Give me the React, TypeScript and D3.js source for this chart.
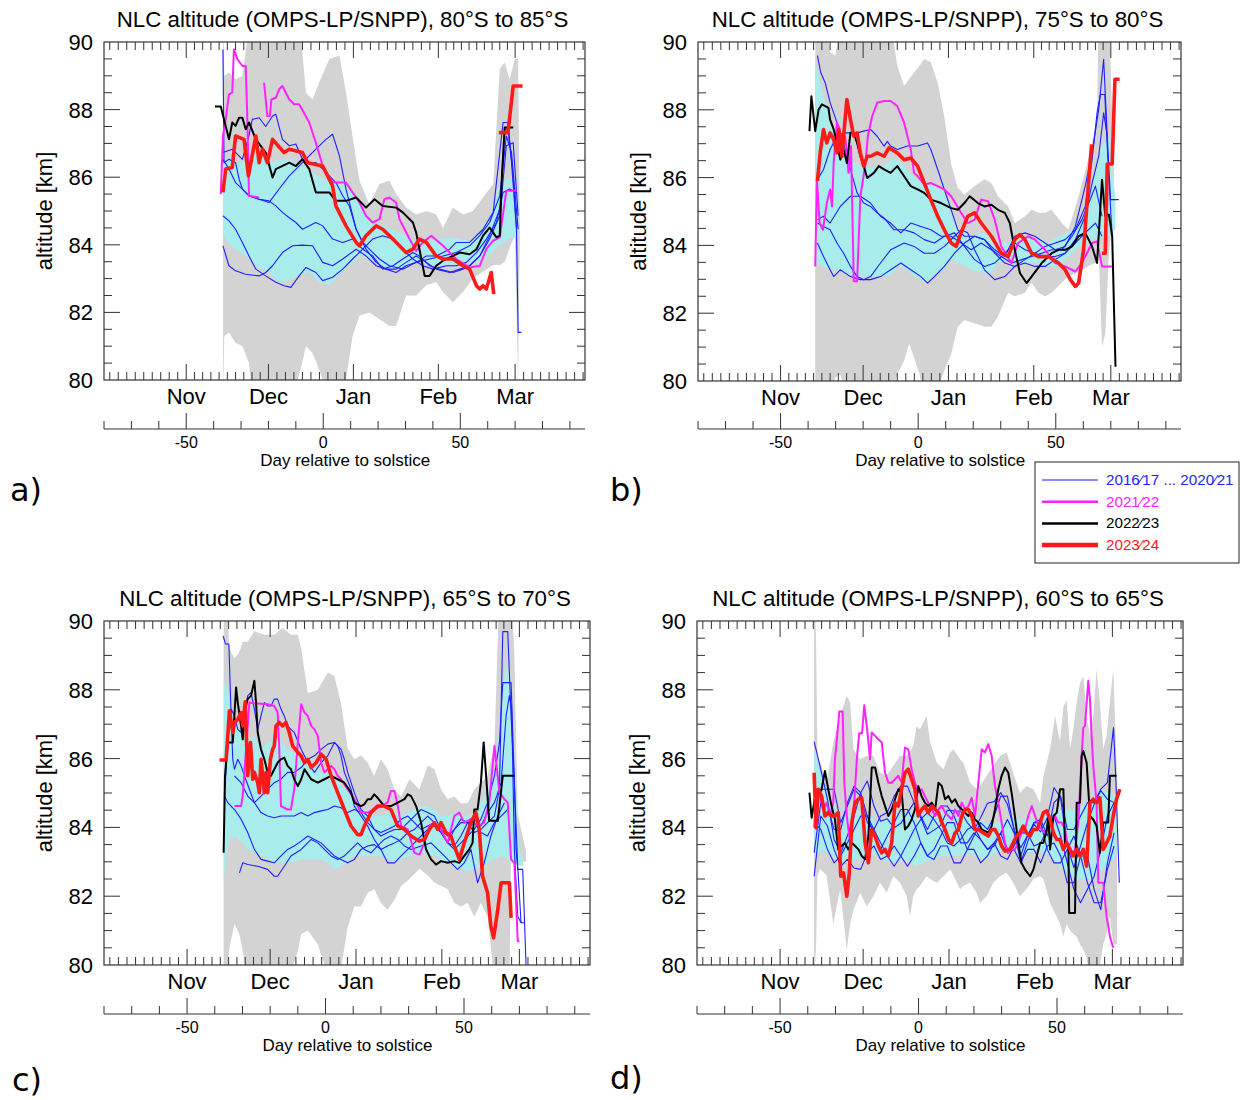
import React from 'react';
import * as d3 from 'd3';

type Pt = [number, number];
type Band = [number, number, number]; // day, low, high

// axis values
const DOMAIN_X: [number, number] = [-80, 95.5];
const MONTH_STARTS = [-81, -50, -20, 11, 42, 70, 101]; // Oct 1 ... Apr 1, days relative to Dec 21
const MONTH_LABELS = ['Oct', 'Nov', 'Dec', 'Jan', 'Feb', 'Mar', 'Apr'];
const DAY_TICKS = [-80, -70, -60, -50, -40, -30, -20, -10, 0, 10, 20, 30, 40, 50, 60, 70, 80, 90];
const DAY_LABELS = [-50, 0, 50];
const ALT_LABELS = [80, 82, 84, 86, 88, 90];

const LEGEND_LABELS = ['2016\u204417 ... 2020\u204421', '2021\u204422', '2022\u204423', '2023\u204424'];
const LEGEND_COLORS = ['#1f1fff', '#ff22ff', '#000000', '#ff1a1a'];

// ---------- panel a: 80S-85S ----------
const A_GRAY: Band[] = [[-36.6, 79.5, 91], [-36.1, 81.3, 89.0], [-34.4, 81.4, 89.1], [-32, 81.1, 88.9], [-29.5, 81.0, 89.0], [-27.1, 80.5, 90.5], [-25.9, 79.5, 91], [-19.8, 79.5, 91], [-13.7, 79.5, 91], [-10, 79.8, 91], [-8, 80.4, 90], [-6.3, 81.0, 88.5], [-3.9, 80.8, 88.3], [-1.5, 80.3, 88.8], [2.2, 79.5, 89.5], [5.9, 79.5, 89.6], [8.3, 80.0, 88.5], [10.7, 81.3, 87.2], [13.2, 81.9, 85.9], [16.8, 82.0, 85.2], [20.5, 81.8, 85.8], [24.1, 81.6, 85.9], [26.6, 81.6, 85.5], [30.2, 82.5, 85.1], [33.9, 82.5, 84.9], [37.6, 82.8, 85.0], [41.2, 82.9, 84.9], [43.7, 82.6, 84.5], [47.3, 82.3, 85.1], [51, 82.6, 84.9], [54.6, 83.0, 85.0], [58.3, 83.2, 85.4], [62, 83.4, 85.8], [64.4, 83.4, 89.2], [66.2, 83.5, 89.4], [68, 83.9, 88.9], [69.9, 84.3, 89.5], [71.1, 80.0, 89.5], [71.7, 84.3, 84.5]];
const A_CYAN: Band[] = [[-36.6, 84.3, 86.5], [-34.4, 84.0, 86.6], [-30.7, 83.8, 86.4], [-27.1, 83.6, 86.6], [-23.4, 83.3, 86.7], [-19.8, 83.2, 86.4], [-16.1, 82.9, 86.5], [-12.4, 82.95, 86.5], [-8.8, 83.1, 86.4], [-5.1, 83.2, 86.2], [-1.5, 82.9, 86.0], [2.2, 82.8, 85.9], [5.9, 83.1, 85.8], [9.5, 83.4, 85.7], [13.2, 83.7, 85.2], [16.8, 83.6, 84.7], [20.5, 83.4, 84.6], [24.1, 83.3, 84.5], [29, 83.3, 84.3], [33.9, 83.5, 84.1], [38.8, 83.4, 84.1], [43.7, 83.4, 84.2], [48.5, 83.4, 84.2], [53.4, 83.4, 84.1], [57.1, 83.5, 84.4], [60.7, 83.7, 84.8], [64.4, 84.0, 85.8], [68, 84.2, 86.0], [71.1, 84.2, 85.2]];
const A_BLUE: Pt[][] = [
  [[-36.6, 89.78], [-36.2, 86.43], [-34.4, 86.53], [-32, 86.43], [-30.7, 85.94], [-29.5, 85.65], [-27.1, 85.45], [-23.4, 85.35], [-19.8, 85.3], [-17.3, 85.15], [-14.9, 84.96], [-12.4, 84.8], [-10, 84.66], [-7.6, 84.46], [-2.7, 84.66], [-0.2, 84.56], [3.4, 84.17], [7.1, 84.07], [10.7, 84.17], [14.4, 83.87], [18, 83.67], [21.7, 83.28], [25.4, 83.38], [29, 83.58], [32.7, 83.77], [35.1, 83.67], [38.8, 83.38], [42.4, 83.28], [47.3, 83.18], [51, 83.28], [53.4, 83.38], [57.1, 83.67], [60.7, 84.27], [64.4, 85.05], [66.2, 87.42], [67.4, 87.42], [68.7, 86.43], [70.5, 84.46], [71.1, 81.41], [72.3, 81.41]],
  [[-36.6, 86.73], [-33.2, 86.83], [-29.5, 86.53], [-27.1, 87.22], [-25.9, 87.71], [-23.4, 87.76], [-21, 87.5], [-18.5, 87.81], [-17.3, 87.86], [-14.9, 87.12], [-12.4, 86.93], [-10, 86.98], [-7.6, 86.53], [-5.1, 86.43], [-2.7, 86.43], [-0.2, 86.24], [2.2, 86.04], [4.6, 85.84], [7.1, 85.45], [9.5, 85.15], [12, 84.46], [14.4, 84.07], [16.8, 83.87], [20.5, 83.58], [24.1, 83.38], [29, 83.28], [33.9, 83.48], [37.6, 83.67], [41.2, 83.67], [46.1, 83.87], [48.5, 84.07], [53.4, 84.07], [58.3, 84.46], [62, 84.96], [65.6, 87.62], [67.4, 87.62], [69.3, 86.0], [70.5, 84.5]],
  [[-36.6, 84.86], [-34.4, 84.71], [-32, 84.46], [-29.5, 84.07], [-27.1, 83.67], [-24.6, 83.28], [-21, 83.08], [-17.3, 82.89], [-14.3, 82.79], [-11.8, 82.74], [-8.8, 83.08], [-6.3, 83.33], [-2.7, 83.18], [-0.2, 82.94], [3.4, 83.04], [7.1, 83.28], [10.7, 83.58], [14.4, 83.87], [18, 84.17], [21.7, 84.27], [25.4, 84.17], [29, 83.87], [32.7, 83.58], [36.3, 83.38], [40, 83.28], [44.9, 83.38], [48.5, 83.38], [52.2, 83.48], [55.9, 83.77], [59.5, 84.17], [63.2, 84.66], [65.6, 85.55], [68, 85.65], [70.5, 85.55]],
  [[-36.6, 83.97], [-34.4, 83.38], [-32, 83.23], [-28.3, 83.13], [-23.4, 83.08], [-21, 83.18], [-18.5, 83.38], [-14.9, 83.77], [-11.2, 83.97], [-7.6, 83.99], [-3.9, 83.97], [-0.2, 83.48], [3.4, 83.38], [7.1, 83.58], [12, 83.87], [15.6, 83.67], [19.3, 83.38], [22.9, 83.28], [26.6, 83.28], [30.2, 83.48], [33.9, 83.67], [37.6, 83.48], [41.2, 83.28], [46.1, 83.18], [49.8, 83.28], [53.4, 83.38], [57.1, 83.67], [60.7, 84.17], [64.4, 84.86], [66.8, 86.93], [69.3, 87.02], [71.1, 84.86]],
  [[-36.6, 86.53], [-34.4, 86.24], [-32, 85.84], [-29.5, 85.65], [-27.1, 85.45], [-23.4, 85.35], [-19.8, 85.25], [-16.1, 85.65], [-12.4, 86.04], [-7.6, 86.43], [-2.7, 86.83], [1, 87.12], [3.4, 87.27], [5.9, 86.63], [8.3, 85.65], [12, 84.46], [15.6, 83.87], [19.3, 83.48], [22.9, 83.28], [26.6, 83.18], [30.2, 83.38], [33.9, 83.48], [38.8, 83.58], [43.7, 83.67], [48.5, 83.77], [53.4, 83.97], [57.1, 84.27], [60.7, 84.66], [64.4, 85.45], [66.8, 87.22], [68.7, 86.73], [71.1, 84.46]],
];
const A_MAGENTA: (Pt | null)[] = [[-37.4, 85.5], [-36.6, 87.22], [-35.6, 87.71], [-34.4, 88.45], [-33.2, 88.5], [-32.6, 89.78], [-31.3, 89.49], [-29.5, 89.29], [-28.3, 89.29], [-27.7, 87.71], [-27.1, 85.45], [-23.4, 85.4], null, [-21.6, 88.8], [-20.4, 87.81], [-19.5, 87.81], [-18.9, 88.3], [-17.3, 88.35], [-16.1, 88.6], [-14.9, 88.7], [-12.4, 88.3], [-10.6, 88.16], [-8.8, 88.16], [-5.1, 87.62], [-2.7, 87.02], [-0.2, 86.33], [3.4, 85.84], [8.3, 85.84], [10.7, 85.55], [13.2, 85.25], [15.6, 84.86], [18, 84.66], [20.5, 84.76], [22.3, 85.35], [24.1, 85.4], [26.6, 85.25], [27.8, 84.76], [31.5, 84.17], [33.9, 83.82], [36.3, 84.07], [39.4, 84.27], [43.7, 83.97], [48.5, 83.58], [53.4, 83.33], [57.1, 83.38], [59.5, 83.87], [62, 84.12], [64.4, 84.22], [66.8, 85.6], [70.5, 85.6]];
const A_BLACK: (Pt | null)[] = [[-39.5, 88.09], [-37.4, 88.09], [-36.2, 87.71], [-34.4, 87.12], [-33.2, 87.62], [-32, 87.52], [-30.7, 87.76], [-29.5, 87.76], [-28.3, 87.42], [-27.1, 87.62], [-24.6, 87.12], [-21, 86.73], [-18.5, 85.99], [-17.3, 86.24], [-12.4, 86.43], [-10, 86.33], [-7.6, 86.53], [-5.1, 86.24], [-2.7, 85.55], [2.2, 85.55], [4.6, 85.3], [8.3, 85.3], [12, 85.4], [15.6, 85.1], [18.7, 85.35], [21.7, 85.15], [26.6, 85.1], [29, 84.96], [32.7, 84.66], [33.9, 84.36], [35.1, 83.87], [37, 83.08], [38.8, 83.08], [41.2, 83.38], [43.7, 83.53], [47.3, 83.67], [49.8, 83.77], [53.4, 83.72], [55.9, 83.87], [58.3, 84.27], [60.7, 84.51], [63.2, 84.22], [64.4, 84.27], [65.2, 86.04], [66.2, 87.47], [69.3, 87.47]];
const A_RED: (Pt | null)[] = [[-36.6, 85.55], [-35.6, 86.24], [-33.2, 86.29], [-32, 87.22], [-28.9, 87.12], [-27.3, 86.04], [-24.6, 87.22], [-23.4, 86.43], [-22.2, 86.83], [-20.4, 86.43], [-18.5, 87.12], [-14.3, 86.73], [-12.4, 86.83], [-7.6, 86.73], [-5.7, 86.43], [-0.2, 86.33], [3.4, 85.74], [4.6, 85.15], [8.3, 84.56], [12, 84.07], [13.2, 83.97], [15.6, 84.27], [19.3, 84.56], [21.7, 84.46], [25.4, 84.17], [30.2, 83.77], [32.7, 83.87], [35.1, 84.17], [37.6, 84.07], [41.2, 83.67], [43.7, 83.58], [47.3, 83.58], [51, 83.38], [53.4, 83.28], [55.9, 82.79], [57.1, 82.69], [58.3, 82.79], [59.5, 82.69], [61.3, 83.18], [62.2, 82.54], null, [64.1, 87.32], [67.4, 87.32], [69.3, 88.7], [72.7, 88.7]];

// ---------- panel b: 75S-80S ----------
const B_GRAY: Band[] = [[-37.4, 79.5, 91], [-34.4, 79.5, 91], [-32, 79.5, 89.7], [-30.1, 80.1, 89.6], [-28.3, 80.2, 90.5], [-25.9, 79.5, 91], [-19.8, 79.5, 91], [-13.7, 79.5, 91], [-10, 79.5, 90.6], [-7.6, 80.2, 89.3], [-5.1, 80.6, 88.7], [-3.3, 81.1, 88.9], [-1.5, 80.7, 89.1], [0.5, 80.2, 89.3], [2.2, 79.5, 89.5], [4.6, 79.5, 89.4], [7.1, 79.8, 88.8], [9.5, 80.3, 87.8], [12, 80.8, 86.4], [14.4, 81.6, 85.7], [16.8, 81.8, 85.5], [20.5, 81.7, 85.75], [24.1, 81.6, 85.95], [26.6, 81.6, 85.84], [29, 81.9, 85.45], [32.7, 82.6, 85.15], [35.1, 82.5, 84.66], [38.8, 82.6, 84.86], [41.2, 82.9, 85.05], [43.7, 82.6, 84.96], [46.1, 82.5, 84.96], [48.5, 82.6, 85.05], [52.2, 82.9, 84.66], [54.6, 83.1, 84.46], [58.3, 83.2, 85.45], [62, 83.4, 86.6], [65, 83.5, 87.7], [65.6, 83.8, 91], [66.8, 81.0, 91], [68, 81.4, 91], [69.3, 83.8, 91], [71.1, 85.0, 86.2]];
const B_CYAN: Band[] = [[-37.4, 83.48, 89.4], [-34.4, 83.38, 88.4], [-32, 83.3, 87.7], [-29.5, 83.28, 87.22], [-27.1, 83.2, 86.6], [-24.6, 83.1, 86.5], [-21, 83.08, 86.34], [-17.3, 83.08, 86.3], [-12.4, 83.1, 86.34], [-10, 83.1, 86.53], [-7.6, 83.38, 86.5], [-5.1, 83.35, 86.34], [-1.5, 83.1, 86.0], [2.2, 82.9, 85.84], [5.9, 83.1, 85.75], [9.5, 83.3, 85.55], [12, 83.6, 84.86], [14.4, 83.5, 84.46], [19.3, 83.28, 84.27], [24.1, 83.18, 84.37], [26.6, 83.2, 84.17], [29, 83.48, 84.07], [32.7, 83.58, 84.07], [38.8, 83.48, 84.27], [42.4, 83.48, 84.17], [47.3, 83.38, 84.07], [51, 83.38, 84.27], [54.6, 83.67, 84.37], [58.3, 83.97, 84.66], [62, 84.1, 85.45], [64.4, 84.2, 86.24], [66.8, 84.2, 86.93], [69.3, 84.3, 87.22], [71.7, 84.5, 85.35]];
const B_BLUE: Pt[][] = [
  [[-36.6, 89.6], [-35.4, 89.1], [-33.8, 88.8], [-32, 88.21], [-29.5, 87.62], [-27.1, 87.02], [-24.6, 86.24], [-22.2, 85.55], [-19.8, 85.25], [-17.3, 85.15], [-14.9, 84.96], [-12.4, 84.81], [-8.8, 84.46], [-5.1, 84.46], [-1.5, 84.37], [2.2, 84.17], [5.9, 84.07], [9.5, 84.27], [13.2, 84.37], [16.8, 83.97], [20.5, 83.58], [24.1, 83.38], [27.8, 83.48], [31.5, 83.77], [35.1, 84.07], [38.8, 83.87], [42.4, 83.77], [46.1, 83.97], [49.8, 84.07], [53.4, 84.17], [57.1, 84.46], [60.7, 85.15], [63.2, 86.53], [65, 87.91], [66.2, 88.45], [67.8, 88.45], [69.1, 86.24], [70.5, 84.27]],
  [[-36.6, 85.94], [-34.4, 86.24], [-32, 86.83], [-29.5, 87.22], [-27.1, 87.32], [-24.6, 87.32], [-22.2, 87.32], [-19.8, 87.37], [-17.3, 87.42], [-14.9, 87.22], [-12.4, 86.93], [-11.2, 87.07], [-10, 86.93], [-7.6, 86.83], [-3.9, 86.93], [-0.2, 86.93], [3.4, 87.02], [4.6, 86.83], [7.1, 86.24], [9.5, 85.65], [12, 85.05], [14.4, 84.46], [16.8, 84.27], [20.5, 84.27], [24.1, 84.17], [27.8, 83.87], [31.5, 83.67], [35.1, 84.27], [38.8, 84.37], [42.4, 84.27], [46.1, 84.07], [49.8, 83.87], [53.4, 83.97], [57.1, 84.56], [60.7, 85.75], [63.2, 86.73], [65.6, 88.01], [67.4, 89.49], [68.7, 87.22], [69.9, 85.35], [72.9, 85.35]],
  [[-36.6, 84.07], [-34.4, 83.67], [-32, 83.28], [-30.7, 83.08], [-28.3, 83.28], [-24.6, 83.08], [-21, 82.99], [-17.3, 82.99], [-13.7, 83.08], [-10, 83.28], [-6.3, 83.48], [-2.7, 83.28], [1, 83.08], [3.4, 82.89], [5.9, 83.08], [9.5, 83.38], [13.2, 83.77], [16.8, 84.07], [20.5, 84.27], [24.1, 84.17], [27.8, 83.77], [31.5, 83.48], [35.1, 83.38], [38.8, 83.58], [42.4, 83.77], [46.1, 83.67], [49.8, 83.67], [53.4, 83.77], [57.1, 84.07], [60.7, 84.37], [64.4, 84.66], [66.8, 84.27]],
  [[-36.6, 84.66], [-34.4, 84.56], [-32, 84.46], [-29.5, 84.07], [-27.1, 83.77], [-24.6, 83.38], [-22.2, 83.08], [-19.8, 82.99], [-17.3, 83.08], [-13.7, 83.48], [-10, 83.87], [-5.1, 84.07], [-1.5, 83.97], [2.2, 83.77], [5.9, 83.77], [9.5, 83.97], [13.2, 84.27], [15.6, 84.46], [18, 84.37], [20.5, 83.87], [24.1, 83.28], [27.8, 82.99], [31.5, 83.08], [35.1, 83.38], [38.8, 83.48], [42.4, 83.38], [46.1, 83.38], [49.8, 83.58], [53.4, 83.77], [57.1, 84.17], [60.7, 84.86], [63.2, 85.84], [65.6, 86.63], [67.4, 87.91], [68.7, 87.22]],
  [[-36.6, 84.76], [-34.4, 84.86], [-32, 84.66], [-28.3, 85.15], [-24.6, 85.45], [-21, 85.45], [-17.3, 85.25], [-13.7, 84.86], [-10, 84.66], [-6.3, 84.37], [-2.7, 84.66], [1, 84.56], [4.6, 84.46], [8.3, 84.27], [12, 84.27], [15.6, 84.07], [19.3, 83.87], [22.9, 84.07], [26.6, 83.87], [30.2, 83.67], [33.9, 83.48], [37.6, 83.58], [41.2, 83.67], [44.9, 83.77], [48.5, 83.87], [52.2, 83.87], [55.9, 84.27], [59.5, 84.76], [62, 85.25], [64.4, 85.75], [66.8, 84.86]],
];
const B_MAGENTA: (Pt | null)[] = [[-37.4, 83.38], [-36.8, 85.94], [-35.8, 84.66], [-34.6, 84.46], [-33.2, 85.25], [-32, 85.65], [-31.3, 85.15], [-30.7, 86.43], [-29.5, 87.62], [-28.5, 87.42], [-27.7, 86.83], [-26.5, 87.22], [-25.3, 86.14], [-24.4, 86.93], [-23.4, 82.94], [-22.2, 82.94], [-21, 85.45], [-19.1, 86.43], [-18.3, 87.22], [-16.7, 87.81], [-14.9, 88.21], [-12.4, 88.26], [-10, 88.26], [-7.6, 88.11], [-5.1, 87.62], [-2.7, 86.83], [-1.5, 86.14], [-0.2, 86.04], [2.2, 85.79], [4.6, 85.84], [7.1, 85.75], [9.5, 85.65], [12, 85.45], [15.6, 84.96], [18, 84.66], [20.5, 84.76], [22.9, 85.35], [25.4, 85.3], [27.8, 84.76], [30.2, 83.97], [33.9, 83.48], [36.3, 84.07], [40, 84.27], [42.4, 84.17], [46.1, 83.87], [49.8, 83.48], [53.4, 83.38], [57.1, 83.23], [59.5, 83.48], [63.2, 84.07], [65, 84.12], [66.8, 83.38], [70.5, 83.38]];
const B_BLACK: (Pt | null)[] = [[-39.5, 87.37], [-38.8, 88.4], [-37.4, 87.37], [-36.2, 88.0], [-35.0, 88.16], [-33.8, 88.11], [-32.6, 88.06], [-32, 87.71], [-30.7, 87.42], [-29.5, 87.02], [-28.3, 86.53], [-27.1, 86.83], [-25.9, 86.43], [-24.6, 87.32], [-23.4, 87.32], [-22.2, 87.02], [-21, 86.63], [-19.8, 86.34], [-18.5, 85.99], [-16.1, 86.14], [-14.3, 86.34], [-12.4, 86.24], [-10, 86.14], [-7.6, 86.34], [-5.1, 86.04], [-2.7, 85.75], [-0.2, 85.65], [2.2, 85.55], [4.6, 85.35], [8.3, 85.25], [12, 85.1], [14.4, 85.05], [16.8, 85.25], [18.7, 85.45], [21.7, 85.25], [24.1, 85.15], [26.6, 85.2], [29, 85.05], [31.5, 84.96], [33.3, 84.66], [35.1, 83.87], [37, 83.18], [39.4, 82.89], [41.2, 83.08], [44.9, 83.48], [48.5, 83.77], [51, 83.87], [53.4, 83.87], [55.9, 83.97], [58.3, 84.27], [60.7, 84.37], [63.2, 83.97], [65, 83.48], [66.8, 85.94], [68, 84.86], [69.3, 84.91], [70.5, 84.27], [71.7, 80.42]];
const B_RED: (Pt | null)[] = [[-36.6, 85.9], [-35.6, 86.73], [-34.4, 87.42], [-33.2, 87.02], [-32, 87.32], [-30.7, 87.12], [-29.5, 86.73], [-28.9, 87.42], [-27.7, 86.63], [-27.1, 87.22], [-25.9, 88.3], [-24.6, 87.71], [-23.4, 87.22], [-22.2, 87.32], [-21, 86.73], [-19.8, 86.34], [-18.5, 86.63], [-17.3, 86.63], [-14.9, 86.73], [-12.4, 86.63], [-10.6, 86.88], [-7.6, 86.73], [-5.1, 86.53], [-2.7, 86.58], [-0.2, 86.34], [2.2, 85.84], [4.6, 85.35], [7.1, 84.86], [9.5, 84.46], [12, 84.07], [13.8, 83.97], [15.6, 84.37], [18, 84.86], [20.5, 84.96], [22.9, 84.66], [26.6, 84.27], [30.2, 83.77], [32.7, 83.67], [35.1, 84.17], [36.9, 84.32], [38.8, 84.17], [41.2, 83.77], [43.7, 83.67], [47.3, 83.67], [51, 83.48], [53.4, 83.28], [55.3, 82.99], [57.1, 82.79], [58.3, 82.89], [60.1, 83.87], [62, 85.94], [63, 86.98], null, [66.8, 83.77], [68, 83.77], [68.7, 86.4], [70.5, 86.4], [71.5, 88.9], [73.2, 88.9]];

// ---------- panel c: 65S-70S ----------
const C_GRAY: Band[] = [[-36.8, 79.5, 91], [-35.9, 79.5, 91], [-34.7, 80.5, 89.2], [-32.9, 81.2, 88.9], [-31.1, 80.9, 89.1], [-29.9, 80.4, 89.4], [-28.1, 79.5, 89.4], [-25.7, 79.5, 89.7], [-22.1, 79.5, 89.6], [-18.5, 79.5, 89.6], [-15.5, 79.5, 89.8], [-12.5, 79.8, 89.6], [-10, 80.4, 89.6], [-8.8, 80.9, 89.2], [-6.4, 81.0, 87.9], [-2.8, 80.6, 88.0], [0.8, 79.7, 88.5], [3.2, 79.5, 88.4], [5.6, 79.9, 87.6], [8.0, 81.1, 86.3], [10.4, 81.7, 85.98], [12.8, 81.7, 86.1], [15.2, 82.1, 85.88], [17.6, 82.2, 85.5], [20, 81.8, 85.98], [22.4, 81.6, 85.69], [24.9, 81.9, 85.1], [27.3, 82.3, 84.9], [30.3, 82.5, 85.4], [33.9, 82.8, 85.1], [36.9, 82.6, 85.8], [39.3, 82.4, 85.7], [41.7, 82.3, 85.1], [44.1, 82.2, 84.82], [46.5, 81.8, 84.9], [48.9, 81.7, 84.7], [51.3, 81.8, 84.7], [53.7, 81.4, 85.1], [56.1, 81.8, 85.3], [58.5, 81.4, 85.5], [61, 79.5, 86.4], [62.8, 79.5, 91], [66.4, 79.5, 91], [67.0, 83.4, 91], [68.2, 82.9, 89.0], [69.4, 83.0, 84.4], [72.4, 83.0, 83.3]];
const C_CYAN: Band[] = [[-36.8, 82.4, 88.3], [-35.3, 83.55, 88.0], [-32.9, 83.75, 87.0], [-30.5, 83.6, 86.8], [-28.1, 83.36, 86.56], [-25.7, 83.3, 86.66], [-23.3, 83.17, 86.27], [-20.9, 83.1, 86.47], [-18.5, 82.97, 86.56], [-16.1, 82.97, 86.47], [-13.7, 82.97, 86.27], [-11.3, 83.0, 86.18], [-8.8, 83.07, 85.98], [-6.4, 83.07, 85.79], [-4.0, 83.07, 85.79], [-1.6, 83.07, 85.6], [0.8, 82.97, 85.6], [3.2, 82.78, 85.5], [5.6, 82.87, 85.2], [8.0, 83.0, 85.11], [10.4, 83.17, 84.72], [12.8, 83.17, 84.52], [15.2, 83.17, 84.52], [17.6, 83.17, 84.33], [20, 83.17, 84.33], [22.4, 83.07, 84.43], [24.9, 82.97, 84.52], [27.3, 83.07, 84.33], [29.7, 83.17, 84.43], [32.1, 83.2, 84.52], [34.5, 83.26, 84.62], [36.9, 83.2, 84.62], [39.3, 83.17, 84.52], [41.7, 83.07, 84.33], [44.1, 82.97, 84.33], [46.5, 82.87, 84.43], [48.9, 82.78, 84.33], [51.3, 82.75, 84.33], [53.7, 82.78, 84.43], [56.1, 82.87, 84.72], [58.5, 82.97, 85.11], [61, 83.07, 85.69], [63.4, 83.17, 87.24], [65.2, 83.1, 88.8], [66.4, 83.0, 88.4], [68.2, 82.97, 85.79], [70, 82.9, 83.36], [71.2, 82.87, 83.07]];
const C_BLUE: Pt[][] = [
  [[-37.0, 89.57], [-36.1, 89.33], [-34.9, 89.33], [-34.1, 87.24], [-33.5, 85.98], [-32.9, 85.69], [-31.7, 85.98], [-30.5, 85.79], [-29.3, 85.5], [-27.5, 85.11], [-25.7, 84.72], [-23.3, 84.43], [-20.9, 84.33], [-18.5, 84.28], [-16.1, 84.33], [-13.7, 84.33], [-11.3, 84.33], [-8.8, 84.43], [-6.4, 84.33], [-4.0, 84.43], [-1.6, 84.48], [0.8, 84.52], [3.2, 84.62], [5.6, 84.57], [8.0, 84.43], [10.4, 84.52], [12.8, 84.43], [15.2, 84.14], [17.6, 83.94], [20, 83.85], [22.4, 83.94], [24.9, 84.04], [27.3, 84.24], [29.7, 84.33], [32.1, 84.14], [34.5, 83.94], [36.9, 84.04], [39.3, 84.14], [41.7, 83.94], [44.1, 83.75], [46.5, 83.94], [48.9, 84.14], [51.3, 84.14], [53.7, 83.85], [56.1, 83.94], [58.5, 84.14], [61, 84.33], [62.8, 85.11], [64.0, 89.69], [65.8, 89.69], [67.0, 87.24], [68.2, 85.3], [68.8, 83.36], [69.4, 82.78], [71.2, 82.78], [72.4, 80.01]],
  [[-36.5, 84.91], [-35.3, 86.47], [-34.1, 87.44], [-32.9, 87.24], [-31.7, 86.85], [-30.5, 86.76], [-29.3, 87.24], [-28.1, 87.83], [-26.9, 87.92], [-25.7, 87.44], [-24.5, 86.85], [-23.3, 87.24], [-22.1, 87.63], [-20.9, 87.53], [-19.7, 87.53], [-18.5, 87.73], [-17.3, 87.73], [-16.1, 87.44], [-14.9, 87.24], [-13.7, 86.95], [-12.5, 86.85], [-11.3, 86.76], [-8.8, 86.27], [-6.4, 85.88], [-4.0, 85.6], [-1.6, 85.88], [0.8, 86.08], [3.2, 86.47], [4.4, 86.37], [5.6, 86.08], [6.8, 85.6], [9.2, 85.11], [10.4, 84.62], [12.8, 84.33], [15.2, 84.04], [17.6, 83.65], [20, 83.36], [22.4, 82.97], [24.9, 82.97], [27.3, 83.17], [29.7, 83.36], [32.1, 83.55], [34.5, 83.75], [36.9, 83.94], [39.3, 84.04], [41.7, 83.85], [44.1, 83.55], [46.5, 83.36], [48.9, 83.55], [51.3, 83.75], [53.7, 83.94], [56.1, 84.24], [58.5, 84.72], [61, 85.5], [62.8, 86.47], [64.0, 88.21], [67.0, 88.21], [68.2, 85.3], [69.4, 82.87], [70.6, 81.23], [71.8, 81.23]],
  [[-31.1, 82.68], [-29.9, 82.97], [-28.1, 82.92], [-24.5, 82.87], [-20.9, 82.78], [-18.5, 82.58], [-17.3, 82.58], [-14.9, 82.87], [-12.5, 83.17], [-8.8, 83.36], [-5.2, 83.65], [-2.8, 83.55], [-0.4, 83.36], [2.0, 83.17], [4.4, 83.07], [6.8, 83.17], [9.2, 83.36], [11.6, 83.55], [14, 83.36], [16.4, 83.26], [18.8, 83.46], [21.2, 83.65], [23.6, 83.75], [26.1, 83.65], [28.5, 83.46], [30.9, 83.36], [34.5, 83.46], [38.1, 83.55], [40.5, 83.36], [42.9, 83.17], [45.3, 82.97], [47.7, 82.78], [50.1, 82.97], [52.5, 83.36], [54.9, 82.39], [57.3, 82.97], [59.7, 83.75], [62.2, 84.33], [64.6, 84.72]],
  [[-36.5, 84.91], [-35.3, 84.72], [-32.9, 84.52], [-30.5, 84.24], [-28.1, 83.85], [-25.7, 83.36], [-23.3, 83.07], [-20.9, 83.02], [-18.5, 82.97], [-16.1, 83.17], [-13.7, 83.36], [-11.3, 83.46], [-8.8, 83.6], [-6.4, 83.75], [-4.0, 83.65], [-1.6, 83.55], [0.8, 83.36], [3.2, 83.17], [5.6, 83.07], [8.0, 82.97], [10.4, 83.07], [12.8, 83.36], [15.2, 83.46], [17.6, 83.5], [20, 83.36], [22.4, 83.46], [24.9, 83.55], [27.3, 83.65], [29.7, 83.85], [32.1, 83.94], [34.5, 84.14], [36.9, 84.33], [39.3, 84.14], [41.7, 83.85], [44.1, 83.55], [46.5, 83.46], [48.9, 83.75], [51.3, 84.14], [53.7, 84.14], [56.1, 83.85], [58.5, 83.75], [61, 84.14], [63.4, 84.33], [65.8, 84.52]],
  [[-32.9, 85.5], [-30.5, 85.3], [-28.1, 84.91], [-25.7, 84.72], [-23.3, 84.91], [-20.9, 85.11], [-18.5, 85.3], [-16.1, 85.4], [-13.7, 85.6], [-11.3, 85.6], [-8.8, 85.74], [-6.4, 85.98], [-4.0, 86.08], [-1.6, 86.27], [0.8, 86.42], [3.2, 86.47], [5.6, 86.27], [6.8, 85.98], [8.0, 85.6], [10.4, 85.01], [12.8, 84.52], [15.2, 84.33], [17.6, 83.94], [20, 83.75], [22.4, 83.85], [24.9, 83.94], [27.3, 83.94], [29.7, 84.14], [32.1, 84.33], [34.5, 84.52], [36.9, 84.43], [39.3, 84.33], [41.7, 83.94], [44.1, 83.55], [46.5, 83.94], [48.9, 84.24], [51.3, 84.14], [53.7, 84.24], [56.1, 84.04], [58.5, 84.43], [61, 84.72], [63.4, 85.3], [65.2, 87.24], [66.4, 87.83], [67.2, 87.44], [68.2, 83.36], [69.4, 81.42], [70.6, 81.23]],
];
const C_MAGENTA: (Pt | null)[] = [[-32.9, 84.62], [-30.5, 84.62], [-29.9, 84.91], [-28.1, 86.95], [-27.5, 87.63], [-25.7, 87.61], [-20.9, 87.58], [-18.5, 87.53], [-17.3, 87.34], [-16.7, 86.27], [-16.1, 84.62], [-13.7, 84.52], [-12.5, 84.52], [-11.3, 85.11], [-10, 86.47], [-8.8, 87.58], [-7.6, 87.34], [-6.4, 87.24], [-5.2, 86.95], [-4.0, 86.85], [-2.8, 86.66], [-1.6, 85.88], [-0.4, 85.6], [0.8, 85.69], [2.0, 85.79], [3.2, 85.69], [4.4, 85.5], [5.6, 85.4], [8.0, 85.11], [10.4, 84.82], [12.8, 84.43], [15.2, 84.43], [17.6, 84.52], [20, 84.62], [22.4, 84.72], [23.6, 85.06], [24.9, 85.06], [26.1, 84.62], [27.3, 84.04], [29.7, 83.94], [32.1, 83.26], [33.9, 83.21], [35.7, 83.55], [37.5, 84.04], [39.3, 84.14], [41.7, 83.94], [44.1, 83.55], [46.5, 84.33], [48.3, 84.43], [50.1, 84.14], [52.5, 84.24], [54.9, 84.04], [57.3, 84.14], [59.1, 84.72], [61.0, 86.37], [62.8, 85.01], [64.6, 84.82], [65.8, 84.72], [67.0, 83.07], [68.2, 82.97], [69.4, 80.69], [70.0, 80.69]];
const C_BLACK: (Pt | null)[] = [[-36.8, 83.26], [-36.3, 85.5], [-35.3, 86.47], [-33.5, 86.47], [-32.3, 88.07], [-31.7, 87.63], [-30.5, 86.95], [-29.9, 86.56], [-29.0, 87.44], [-28.1, 87.73], [-26.9, 87.83], [-25.7, 88.26], [-25.1, 87.63], [-24.5, 86.76], [-23.3, 86.27], [-22.1, 85.98], [-20.9, 85.6], [-19.7, 85.5], [-18.5, 85.69], [-17.3, 85.88], [-16.1, 85.98], [-14.9, 86.03], [-13.7, 85.79], [-12.5, 85.69], [-11.3, 85.4], [-10, 85.2], [-8.8, 85.4], [-7.6, 85.69], [-5.2, 85.4], [-2.8, 85.3], [-0.4, 85.4], [2.0, 85.5], [4.4, 85.4], [6.8, 85.3], [9.2, 85.01], [10.4, 84.72], [12.8, 84.62], [14, 84.67], [15.2, 84.82], [16.4, 84.82], [17.6, 84.96], [18.8, 84.86], [21.2, 84.62], [23.6, 84.62], [26.1, 84.72], [28.5, 84.82], [29.7, 84.96], [30.9, 84.91], [32.7, 84.62], [34.5, 84.14], [36.3, 83.36], [38.1, 83.07], [39.9, 82.92], [41.7, 83.02], [44.1, 82.97], [46.5, 83.02], [48.3, 82.97], [50.1, 83.17], [51.9, 83.36], [53.1, 83.55], [53.7, 84.52], [54.9, 84.52], [56.1, 85.3], [57.1, 86.47], [57.9, 85.6], [59.1, 84.19], [62.2, 84.19], [64.0, 85.5], [68.2, 85.5]];
const C_RED: (Pt | null)[] = [[-38.3, 85.96], [-35.9, 85.96], [-34.7, 87.39], [-33.5, 86.76], [-32.9, 87.05], [-31.7, 87.14], [-30.5, 87.34], [-29.9, 86.95], [-29.0, 87.65], [-28.1, 85.5], [-27.1, 86.47], [-26.3, 85.4], [-25.7, 85.6], [-24.5, 85.3], [-23.9, 85.01], [-23.3, 85.98], [-22.1, 85.01], [-21.5, 85.6], [-20.9, 85.01], [-19.9, 85.98], [-19.1, 86.27], [-18.5, 86.37], [-17.9, 86.95], [-16.7, 87.05], [-15.5, 86.95], [-14.3, 87.05], [-13.1, 86.76], [-11.9, 86.37], [-10, 86.18], [-8.8, 86.08], [-7.6, 85.88], [-6.4, 85.98], [-5.2, 85.74], [-3.4, 85.88], [-1.6, 86.13], [0.2, 85.98], [2.0, 85.5], [4.4, 85.01], [6.8, 84.52], [9.2, 84.04], [11.6, 83.79], [12.8, 83.79], [14, 84.04], [16.4, 84.43], [18.8, 84.62], [21.2, 84.62], [23.6, 84.52], [26.1, 84.04], [28.5, 83.94], [30.9, 83.75], [33.9, 83.6], [35.7, 83.65], [37.5, 83.94], [39.3, 84.14], [40.5, 83.94], [41.7, 84.14], [43.5, 83.85], [45.3, 83.75], [46.5, 83.46], [48.3, 83.07], [50.1, 83.55], [52.5, 84.14], [54.3, 84.43], [55.5, 83.94], [56.7, 82.58], [58.5, 82.1], [59.7, 81.13], [60.7, 80.79], [62.2, 81.61], [63.4, 82.39], [65.2, 82.39], [66.4, 82.39], [67.0, 81.37]];

// ---------- panel d: 60S-65S ----------
const D_GRAY: Band[] = [[-37.7, 79.5, 91], [-37.0, 80.5, 89.5], [-36.5, 82.6, 86.0], [-35.6, 82.8, 85.9], [-33.2, 82.6, 85.3], [-30.8, 81.2, 86.47], [-28.3, 82.2, 87.24], [-25.9, 80.45, 87.83], [-24.7, 81.2, 87.63], [-23.5, 81.6, 86.27], [-21.1, 82.1, 85.98], [-18.7, 81.7, 86.08], [-16.3, 82.0, 86.08], [-13.9, 82.39, 85.59], [-11.5, 82.1, 85.5], [-9.1, 82.58, 85.79], [-6.7, 82.39, 86.08], [-4.3, 82.0, 86.08], [-3.1, 81.42, 86.2], [-1.9, 82.0, 86.37], [-0.7, 82.2, 86.95], [0.5, 82.3, 86.85], [2.9, 82.58, 87.24], [4.2, 82.5, 86.47], [6.6, 82.39, 85.88], [9.0, 82.58, 85.69], [11.4, 82.78, 86.18], [12.6, 82.6, 86.27], [15.0, 82.2, 85.98], [16.2, 82.3, 85.88], [18.6, 82.39, 85.3], [21.0, 82.1, 85.11], [22.2, 81.8, 85.2], [24.6, 82.0, 85.5], [27.0, 82.39, 85.79], [29.4, 82.58, 86.08], [31.8, 82.68, 86.18], [34.2, 82.39, 85.59], [36.6, 82.0, 85.0], [39.0, 82.2, 85.2], [41.5, 82.5, 85.11], [43.9, 82.58, 84.72], [45.1, 82.5, 85.5], [47.5, 81.8, 86.27], [49.3, 81.5, 87.24], [51.1, 81.2, 86.5], [52.3, 80.83, 87.5], [53.5, 81.2, 87.7], [54.7, 81.0, 86.27], [55.9, 80.9, 86.85], [57.1, 80.83, 87.63], [58.3, 80.6, 88.2], [59.5, 80.45, 88.4], [60.7, 80.2, 87.24], [61.9, 79.5, 86.66], [63.1, 79.5, 87.24], [64.3, 79.5, 88.6], [65.5, 80.0, 87.63], [66.7, 80.6, 86.27], [67.9, 80.9, 86.66], [69.1, 81.42, 87.63], [70.3, 80.6, 88.6], [71.7, 80.6, 85.5]];
const D_CYAN: Band[] = [[-37.7, 83.17, 86.27], [-34.4, 83.36, 85.3], [-29.5, 83.07, 84.33], [-24.7, 82.97, 84.33], [-19.9, 83.17, 84.52], [-15.1, 83.17, 84.14], [-10.3, 82.97, 84.33], [-5.5, 83.07, 84.43], [-0.7, 82.87, 84.43], [4.2, 83.07, 84.33], [9.0, 83.17, 84.52], [13.8, 83.17, 84.52], [18.6, 83.26, 84.33], [23.4, 83.07, 84.14], [28.2, 83.26, 84.14], [33.0, 83.36, 84.23], [37.8, 83.17, 84.23], [42.7, 83.36, 84.23], [47.5, 83.17, 84.43], [52.3, 82.78, 84.52], [57.1, 82.49, 84.52], [61.9, 82.49, 84.82], [66.7, 82.78, 85.11], [71.5, 83.17, 84.91]];
const D_BLUE: Pt[][] = [
  [[-37.7, 86.49], [-35.3, 85.69], [-32.9, 84.82], [-30.5, 83.65], [-28.1, 83.26], [-25.7, 83.75], [-23.3, 84.33], [-20.9, 85.01], [-18.5, 85.35], [-16.1, 84.62], [-13.7, 84.18], [-11.3, 84.25], [-8.8, 83.99], [-6.4, 84.12], [-4.0, 84.43], [-1.6, 84.72], [0.8, 84.28], [3.2, 83.8], [5.6, 83.92], [8.0, 84.06], [10.4, 84.5], [12.8, 84.48], [15.2, 84.47], [17.6, 84.14], [20.0, 83.92], [22.4, 84.28], [24.9, 84.7], [27.3, 84.75], [29.7, 85.01], [32.1, 84.67], [34.5, 83.94], [36.9, 83.41], [39.3, 83.75], [41.7, 84.09], [44.1, 83.87], [46.5, 84.28], [48.9, 85.16], [51.3, 84.86], [53.7, 83.46], [56.1, 82.83], [58.5, 83.46], [61.0, 84.14], [63.4, 84.67], [65.8, 85.07], [68.2, 84.82], [70.6, 84.72]],
  [[-37.7, 83.26], [-35.3, 84.72], [-32.9, 84.62], [-30.5, 83.94], [-28.1, 83.94], [-25.7, 84.72], [-23.3, 85.2], [-20.9, 85.01], [-18.5, 84.33], [-16.1, 83.75], [-13.7, 83.36], [-11.3, 83.75], [-8.8, 84.14], [-6.4, 84.52], [-4.0, 84.52], [-1.6, 84.14], [0.8, 83.55], [3.2, 83.17], [5.6, 83.07], [8.0, 83.46], [10.4, 83.46], [12.8, 82.97], [15.2, 82.97], [17.6, 83.36], [20.0, 83.36], [22.4, 82.97], [24.9, 83.17], [27.3, 83.55], [29.7, 83.84], [32.1, 83.26], [34.5, 83.36], [36.9, 82.97], [39.3, 83.36], [41.7, 83.36], [44.1, 82.97], [46.5, 83.46], [48.9, 83.55], [51.3, 83.17], [53.7, 82.39], [56.1, 82.39], [58.5, 83.17], [61.0, 83.17], [63.4, 82.2], [65.8, 81.61], [68.2, 82.97], [70.6, 83.84]],
  [[-37.7, 82.58], [-35.3, 84.33], [-32.9, 84.04], [-30.5, 83.36], [-28.1, 82.87], [-25.7, 83.07], [-23.3, 82.82], [-20.9, 82.78], [-18.5, 83.26], [-16.1, 83.46], [-13.7, 83.07], [-11.3, 83.17], [-8.8, 83.46], [-6.4, 83.17], [-4.0, 82.87], [-1.6, 83.17], [0.8, 83.55], [3.2, 83.17], [5.6, 83.36], [8.0, 83.75], [10.4, 84.14], [12.8, 84.14], [15.2, 83.55], [17.6, 83.55], [20.0, 83.84], [22.4, 83.65], [24.9, 83.36], [27.3, 83.46], [29.7, 83.84], [32.1, 84.23], [34.5, 83.84], [36.9, 83.17], [39.3, 83.75], [41.7, 84.14], [44.1, 84.14], [46.5, 83.36], [48.9, 82.97], [51.3, 82.97], [53.7, 83.36], [56.1, 83.75], [58.5, 83.17], [61.0, 82.39], [63.4, 81.81], [65.8, 81.81], [68.2, 82.78], [70.6, 83.46]],
  [[-37.7, 84.72], [-35.3, 85.11], [-32.9, 85.11], [-30.5, 85.11], [-28.1, 84.14], [-25.7, 84.62], [-23.3, 85.11], [-20.9, 84.91], [-18.5, 84.14], [-16.1, 83.94], [-13.7, 84.33], [-11.3, 84.43], [-8.8, 84.91], [-6.4, 85.2], [-4.0, 85.2], [-1.6, 84.72], [0.8, 84.33], [3.2, 83.94], [5.6, 84.33], [8.0, 84.62], [10.4, 84.62], [12.8, 84.33], [15.2, 83.84], [17.6, 83.36], [20.0, 83.75], [22.4, 84.14], [24.9, 83.94], [27.3, 84.33], [29.7, 84.91], [32.1, 84.91], [34.5, 83.94], [36.9, 82.97], [39.3, 83.55], [41.7, 84.14], [44.1, 84.23], [46.5, 83.75], [48.9, 84.72], [51.3, 84.91], [53.7, 83.94], [56.1, 83.94], [58.5, 84.33], [61.0, 84.72], [63.4, 84.72], [65.8, 85.11], [68.2, 85.3], [70.4, 86.9], [71.3, 85.3], [72.5, 82.39]],
  [[-37.7, 84.14], [-35.3, 83.94], [-32.9, 83.36], [-30.5, 82.97], [-28.1, 83.17], [-25.7, 83.55], [-23.3, 83.94], [-20.9, 84.33], [-18.5, 84.33], [-16.1, 83.94], [-13.7, 83.55], [-11.3, 83.17], [-8.8, 82.87], [-6.4, 83.17], [-4.0, 83.55], [-1.6, 83.94], [0.8, 84.23], [3.2, 84.43], [5.6, 84.23], [8.0, 83.94], [10.4, 83.55], [12.8, 83.46], [15.2, 83.65], [17.6, 83.94], [20.0, 84.04], [22.4, 83.65], [24.9, 83.36], [27.3, 83.55], [29.7, 83.17], [32.1, 83.07], [34.5, 83.46], [36.9, 83.84], [39.3, 83.84], [41.7, 83.46], [44.1, 83.55], [46.5, 83.94], [48.9, 84.33], [51.3, 83.75], [53.7, 82.97], [56.1, 82.2], [58.5, 81.81], [61.0, 82.2], [63.4, 82.58], [65.8, 83.36], [68.2, 84.33], [70.6, 84.72]],
];
const D_MAGENTA: (Pt | null)[] = [[-37.7, 83.99], [-36.8, 85.11], [-35.6, 84.91], [-34.4, 84.52], [-33.2, 84.72], [-32.0, 84.33], [-30.8, 84.72], [-30.2, 85.98], [-29.6, 86.47], [-28.6, 87.37], [-27.4, 87.37], [-26.8, 85.3], [-25.9, 84.33], [-24.7, 83.55], [-23.5, 84.33], [-22.3, 85.98], [-21.4, 86.74], [-20.4, 86.74], [-19.6, 87.55], [-18.7, 86.95], [-18.1, 86.47], [-17.5, 85.98], [-16.9, 86.76], [-15.7, 86.66], [-14.5, 86.56], [-13.3, 86.47], [-12.1, 85.59], [-10.9, 85.3], [-9.7, 85.3], [-8.5, 85.4], [-7.3, 85.5], [-6.1, 85.3], [-4.9, 86.32], [-3.7, 86.27], [-2.5, 85.69], [-1.3, 85.3], [-0.1, 85.01], [1.1, 85.11], [2.3, 84.91], [3.5, 84.72], [4.8, 84.52], [6.0, 84.33], [7.2, 84.52], [8.4, 84.62], [9.6, 84.43], [10.8, 84.33], [12.0, 84.23], [13.2, 84.52], [14.4, 84.33], [15.6, 84.72], [16.8, 84.52], [18.0, 84.62], [19.2, 84.86], [20.4, 84.33], [21.6, 85.3], [22.8, 86.27], [24.0, 86.18], [25.2, 86.42], [26.4, 86.08], [27.6, 85.2], [28.8, 84.72], [30.0, 84.14], [31.2, 83.55], [32.4, 83.26], [33.6, 83.36], [34.8, 83.36], [36.0, 83.55], [37.2, 83.84], [38.4, 83.94], [39.6, 84.33], [40.9, 84.62], [42.1, 84.33], [43.3, 84.04], [44.5, 83.94], [45.7, 83.84], [46.9, 83.94], [48.1, 84.14], [49.3, 84.33], [50.5, 84.14], [51.7, 84.14], [52.9, 83.94], [54.1, 83.36], [55.3, 83.17], [56.5, 83.36], [57.7, 84.14], [58.9, 86.08], [59.5, 86.9], [60.1, 86.95], [61.3, 88.26], [61.9, 87.73], [62.5, 86.66], [63.1, 85.79], [64.3, 84.72], [64.9, 82.39], [66.7, 82.39], [67.9, 81.42], [69.1, 80.83], [70.3, 80.5]];
const D_BLACK: (Pt | null)[] = [[-39.4, 85.01], [-38.6, 84.28], [-37.4, 84.86], [-36.2, 84.91], [-35.0, 85.11], [-33.8, 85.64], [-32.6, 85.11], [-31.4, 84.62], [-30.2, 84.23], [-29.0, 83.36], [-27.8, 83.46], [-26.6, 83.55], [-25.4, 83.36], [-24.1, 83.55], [-22.9, 83.46], [-21.7, 83.36], [-20.5, 83.17], [-19.3, 83.07], [-18.1, 83.75], [-16.9, 85.74], [-15.7, 85.74], [-14.5, 85.3], [-13.3, 84.91], [-12.1, 84.62], [-10.9, 84.33], [-9.7, 84.52], [-8.5, 84.82], [-7.3, 85.11], [-6.1, 85.01], [-4.9, 83.94], [-3.7, 84.04], [-2.5, 84.23], [-1.3, 84.52], [-0.1, 85.2], [1.1, 84.91], [2.3, 84.72], [3.5, 84.62], [4.8, 84.72], [6.0, 84.52], [7.2, 85.3], [8.4, 85.2], [9.6, 84.82], [10.8, 84.91], [12.0, 84.72], [13.2, 84.82], [14.4, 84.62], [16.8, 84.43], [18.0, 84.33], [19.2, 84.43], [20.4, 84.23], [21.6, 84.14], [22.8, 83.94], [25.2, 83.84], [26.4, 84.04], [27.6, 84.52], [28.8, 85.11], [30.0, 85.5], [31.2, 85.74], [32.4, 85.59], [33.6, 85.01], [34.8, 84.33], [36.0, 83.55], [37.2, 82.97], [38.4, 82.78], [40.3, 82.58], [41.5, 82.78], [42.7, 83.17], [43.9, 83.55], [45.1, 83.55], [46.3, 83.94], [46.9, 84.33], [47.5, 83.36], [48.7, 84.33], [49.9, 84.43], [51.1, 85.11], [52.3, 85.11], [52.9, 83.46], [54.1, 83.46], [54.4, 81.51], [56.5, 81.51], [57.1, 84.72], [58.3, 84.72], [58.9, 86.08], [59.5, 86.22], [60.7, 85.88], [61.9, 84.33], [63.1, 84.23], [64.3, 84.04], [65.5, 83.26], [66.7, 84.14], [68.5, 84.14], [69.1, 85.5], [71.5, 85.5]];
const D_RED: (Pt | null)[] = [[-37.7, 85.59], [-37.0, 83.99], [-36.2, 85.11], [-35.0, 84.91], [-33.8, 84.33], [-32.6, 84.43], [-31.4, 84.33], [-30.2, 84.33], [-29.0, 84.43], [-28.1, 82.58], [-27.1, 82.68], [-25.9, 82.0], [-25.0, 82.68], [-24.1, 84.14], [-22.9, 84.72], [-21.7, 84.82], [-20.5, 84.86], [-19.3, 83.55], [-18.1, 82.97], [-16.9, 83.94], [-15.7, 83.75], [-14.5, 83.46], [-13.3, 83.26], [-12.1, 83.36], [-10.9, 83.17], [-9.7, 83.55], [-8.5, 84.72], [-7.3, 84.62], [-6.1, 85.11], [-4.9, 85.59], [-3.7, 85.69], [-2.5, 85.4], [-1.3, 85.11], [-0.1, 84.33], [1.1, 84.52], [2.3, 84.62], [3.5, 84.43], [4.8, 84.62], [6.0, 84.52], [7.2, 84.43], [8.4, 84.14], [9.6, 83.94], [10.8, 83.65], [12.0, 83.55], [13.2, 83.84], [14.4, 83.94], [15.6, 84.33], [16.8, 84.52], [18.0, 84.52], [19.2, 84.33], [20.4, 83.94], [21.6, 83.94], [23.4, 83.84], [25.2, 83.75], [26.4, 83.94], [27.6, 83.94], [28.8, 83.75], [30.0, 83.46], [31.2, 83.31], [33.0, 83.36], [34.2, 83.55], [35.4, 83.75], [36.6, 83.84], [37.8, 84.04], [39.0, 83.84], [40.3, 83.75], [41.5, 83.94], [42.7, 83.94], [43.9, 84.14], [45.1, 84.43], [46.3, 84.48], [47.5, 84.23], [48.7, 83.84], [49.9, 83.65], [51.1, 83.65], [52.3, 83.36], [53.5, 83.55], [54.7, 83.36], [55.9, 83.17], [57.1, 83.36], [58.3, 83.17], [59.5, 83.36], [60.7, 82.87], [61.9, 84.72], [63.1, 84.82], [64.3, 84.72], [65.5, 84.86], [66.7, 83.36], [67.9, 83.55], [69.1, 83.75], [70.3, 84.33], [71.5, 84.82], [72.7, 85.11]];

interface PanelCfg {
  id: string; left: number; right: number; top: number; bottom: number;
  dayAxisY: number; title: string; letter: string; letterX: number; letterY: number;
}

const PANELS: PanelCfg[] = [
  { id: 'a', left: 104, right: 585, top: 42, bottom: 380, dayAxisY: 429, title: 'NLC altitude (OMPS-LP/SNPP), 80°S to 85°S', letter: 'a)', letterX: 10, letterY: 501 },
  { id: 'b', left: 698, right: 1181, top: 42, bottom: 381, dayAxisY: 429, title: 'NLC altitude (OMPS-LP/SNPP), 75°S to 80°S', letter: 'b)', letterX: 610, letterY: 501 },
  { id: 'c', left: 104, right: 590, top: 621, bottom: 965, dayAxisY: 1014, title: 'NLC altitude (OMPS-LP/SNPP), 65°S to 70°S', letter: 'c)', letterX: 12, letterY: 1091 },
  { id: 'd', left: 697, right: 1183, top: 621, bottom: 965, dayAxisY: 1014, title: 'NLC altitude (OMPS-LP/SNPP), 60°S to 65°S', letter: 'd)', letterX: 610, letterY: 1089 },
];

const PANEL_DATA = [
  { gray: A_GRAY, cyan: A_CYAN, blue: A_BLUE, magenta: A_MAGENTA, black: A_BLACK, red: A_RED },
  { gray: B_GRAY, cyan: B_CYAN, blue: B_BLUE, magenta: B_MAGENTA, black: B_BLACK, red: B_RED },
  { gray: C_GRAY, cyan: C_CYAN, blue: C_BLUE, magenta: C_MAGENTA, black: C_BLACK, red: C_RED },
  { gray: D_GRAY, cyan: D_CYAN, blue: D_BLUE, magenta: D_MAGENTA, black: D_BLACK, red: D_RED },
];

const AXIS_COLOR = '#333';
const FONT = "'Liberation Sans', Arial, Helvetica, sans-serif";

function Panel({ cfg, data }: { cfg: PanelCfg; data: typeof PANEL_DATA[number] }) {
  const x = d3.scaleLinear().domain(DOMAIN_X).range([cfg.left, cfg.right]);
  const y = d3.scaleLinear().domain([80, 90]).range([cfg.bottom, cfg.top]);
  const line = d3.line<Pt | null>().defined(d => d !== null).x(d => x(d![0])).y(d => y(d![1]));
  const area = d3.area<Band>().x(d => x(d[0])).y0(d => y(d[1])).y1(d => y(d[2]));
  const clipId = `clip-${cfg.id}`;
  const inDom = (v: number) => v >= DOMAIN_X[0] - 0.01 && v <= DOMAIN_X[1] + 0.01;

  // 10 minor intervals per month on the date axis
  const minorDates: number[] = [];
  for (let i = 0; i < MONTH_STARTS.length - 1; i++) {
    const a = MONTH_STARTS[i], b = MONTH_STARTS[i + 1];
    for (let k = 1; k < 10; k++) minorDates.push(a + ((b - a) * k) / 10);
  }
  const majorDates = MONTH_STARTS.filter(inDom);
  const altMinor = d3.range(80.5, 90, 0.5).filter(v => Math.abs(v % 2) > 0.01);
  const altMajor = [82, 84, 86, 88];
  const midY = (cfg.top + cfg.bottom) / 2;

  return (
    <g>
      <defs>
        <clipPath id={clipId}>
          <rect x={cfg.left} y={cfg.top} width={cfg.right - cfg.left} height={cfg.bottom - cfg.top} />
        </clipPath>
      </defs>
      <g clipPath={`url(#${clipId})`}>
        <path d={area(data.gray) || ''} fill="#d3d3d3" />
        <path d={area(data.cyan) || ''} fill="#a8ecec" />
        {data.blue.map((s, i) => (
          <path key={i} d={line(s) || ''} fill="none" stroke="#1f1fff" strokeWidth={1.1} strokeLinejoin="round" />
        ))}
        <path d={line(data.magenta) || ''} fill="none" stroke="#ff22ff" strokeWidth={2} strokeLinejoin="round" />
        <path d={line(data.black) || ''} fill="none" stroke="#000" strokeWidth={2} strokeLinejoin="round" />
        <path d={line(data.red) || ''} fill="none" stroke="#ff1a1a" strokeWidth={3.6} strokeLinejoin="round" />
      </g>

      {/* frame and ticks */}
      <rect x={cfg.left} y={cfg.top} width={cfg.right - cfg.left} height={cfg.bottom - cfg.top} fill="none" stroke={AXIS_COLOR} strokeWidth={1.2} />
      <g stroke={AXIS_COLOR} strokeWidth={1}>
        {minorDates.filter(inDom).map((d, i) => (
          <g key={'m' + i}>
            <line x1={x(d)} x2={x(d)} y1={cfg.top} y2={cfg.top + 8} />
            <line x1={x(d)} x2={x(d)} y1={cfg.bottom} y2={cfg.bottom - 8} />
          </g>
        ))}
        {majorDates.map((d, i) => (
          <g key={'M' + i}>
            <line x1={x(d)} x2={x(d)} y1={cfg.top} y2={cfg.top + 16} />
            <line x1={x(d)} x2={x(d)} y1={cfg.bottom} y2={cfg.bottom - 16} />
          </g>
        ))}
        {altMinor.map((a, i) => (
          <g key={'am' + i}>
            <line x1={cfg.left} x2={cfg.left + 8} y1={y(a)} y2={y(a)} />
            <line x1={cfg.right} x2={cfg.right - 8} y1={y(a)} y2={y(a)} />
          </g>
        ))}
        {altMajor.map((a, i) => (
          <g key={'aM' + i}>
            <line x1={cfg.left} x2={cfg.left + 16} y1={y(a)} y2={y(a)} />
            <line x1={cfg.right} x2={cfg.right - 16} y1={y(a)} y2={y(a)} />
          </g>
        ))}
      </g>

      {/* month labels */}
      <g fontFamily={FONT} fontSize={22} fill="#000" textAnchor="middle">
        {MONTH_STARTS.map((d, i) =>
          inDom(d) ? <text key={i} x={x(d)} y={cfg.bottom + 24}>{MONTH_LABELS[i]}</text> : null
        )}
      </g>
      {/* altitude labels */}
      <g fontFamily={FONT} fontSize={22} fill="#000" textAnchor="end">
        {ALT_LABELS.map(a => (
          <text key={a} x={cfg.left - 11} y={y(a) + 8}>{a}</text>
        ))}
      </g>
      <text fontFamily={FONT} fontSize={22} textAnchor="middle" transform={`translate(${cfg.left - 52},${midY}) rotate(-90)`}>altitude [km]</text>
      <text fontFamily={FONT} fontSize={22.3} textAnchor="middle" x={(cfg.left + cfg.right) / 2 - 2} y={cfg.top - 15}>{cfg.title}</text>

      {/* day relative to solstice axis */}
      <g stroke={AXIS_COLOR} strokeWidth={1}>
        <line x1={cfg.left} x2={cfg.right} y1={cfg.dayAxisY} y2={cfg.dayAxisY} />
        {DAY_TICKS.map(t => (
          <line key={t} x1={x(t)} x2={x(t)} y1={cfg.dayAxisY} y2={cfg.dayAxisY - (DAY_LABELS.includes(t) ? 16 : 8)} />
        ))}
      </g>
      <g fontFamily={FONT} fontSize={16} textAnchor="middle" fill="#000">
        {DAY_LABELS.map(t => (
          <text key={t} x={x(t)} y={cfg.dayAxisY + 19}>{t}</text>
        ))}
        <text x={x(0) + 22} y={cfg.dayAxisY + 37} fontSize={17}>Day relative to solstice</text>
      </g>

      <text x={cfg.letterX} y={cfg.letterY} fontFamily="'DejaVu Sans', sans-serif" fontSize={32}>{cfg.letter}</text>
    </g>
  );
}

function Legend() {
  const left = 1035, top = 462;
  const widths = [1.2, 2.5, 2.5, 4.5];
  return (
    <g>
      <rect x={left} y={top} width={204} height={101} fill="#fff" stroke="#222" strokeWidth={1} />
      {LEGEND_LABELS.map((lab, i) => {
        const yy = top + 18 + i * 21.7;
        return (
          <g key={lab}>
            <line x1={left + 7} x2={left + 63} y1={yy} y2={yy} stroke={LEGEND_COLORS[i]} strokeWidth={widths[i]} />
            <text x={left + 71} y={yy + 5} fontFamily={FONT} fontSize={15.2} fill={LEGEND_COLORS[i]}>{lab}</text>
          </g>
        );
      })}
    </g>
  );
}

export default function App() {
  return (
    <svg width={1240} height={1100} style={{ position: 'absolute', left: 0, top: 0, background: '#fff' }}>
      <rect x={0} y={0} width={1240} height={1100} fill="#fff" />
      {PANELS.map((p, i) => (
        <Panel key={p.id} cfg={p} data={PANEL_DATA[i]} />
      ))}
      <Legend />
    </svg>
  );
}
